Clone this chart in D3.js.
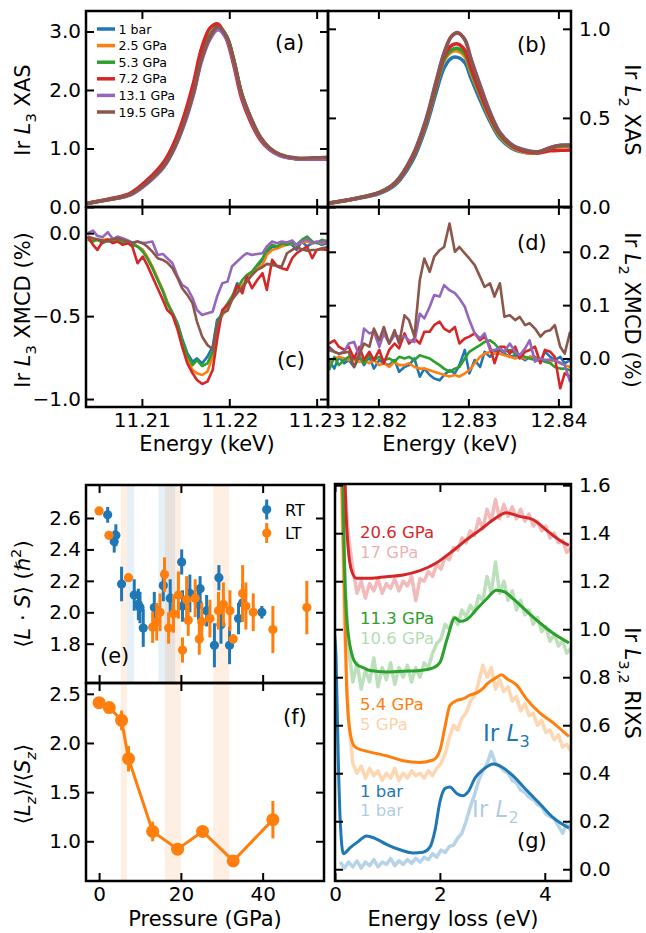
<!DOCTYPE html>
<html>
<head>
<meta charset="UTF-8">
<title>Ir XAS, XMCD and RIXS under pressure</title>
<script src="https://cdn.jsdelivr.net/npm/d3@7"></script>
<style>
  body { margin: 0; background: #fff; }
  svg { font-family: "DejaVu Sans", sans-serif; }
  .tick line { stroke: #000; stroke-width: 2; }
  .tick text { fill: #000; }
  .frame { fill: none; stroke: #000; stroke-width: 2.5; }
</style>
</head>
<body>
<svg width="646" height="933"></svg>
<script>
// ---------- data ----------
var pressureNames = ["1 bar", "2.5 GPa", "5.3 GPa", "7.2 GPa", "13.1 GPa", "19.5 GPa"];
var colors = ["#1f77b4", "#ff7f0e", "#2ca02c", "#d62728", "#9467bd", "#8c564b"];

// (a) Ir L3 XAS
var xasL3Energy = [11.2036, 11.2064, 11.2087, 11.2106, 11.2125, 11.2136, 11.2147, 11.2159, 11.2168, 11.2178, 11.2187, 11.2197, 11.2205, 11.2214, 11.2224, 11.2235, 11.2246, 11.2258, 11.2275, 11.2295, 11.2313];
var xasL3_1bar = [0.06, 0.13, 0.21, 0.41, 0.69, 0.97, 1.37, 1.94, 2.51, 2.90, 3.06, 2.90, 2.51, 1.94, 1.54, 1.20, 1.00, 0.89, 0.83, 0.82, 0.82];
var xasL3_2p5 = [0.06, 0.13, 0.22, 0.42, 0.71, 0.99, 1.40, 1.97, 2.55, 2.93, 3.08, 2.91, 2.51, 1.94, 1.54, 1.20, 1.00, 0.89, 0.83, 0.82, 0.82];
var xasL3_5p3 = [0.06, 0.14, 0.22, 0.42, 0.72, 1.00, 1.41, 1.99, 2.57, 2.95, 3.09, 2.92, 2.52, 1.95, 1.54, 1.20, 1.00, 0.89, 0.83, 0.82, 0.82];
var xasL3_7p2 = [0.06, 0.14, 0.24, 0.46, 0.77, 1.07, 1.50, 2.12, 2.70, 3.06, 3.13, 2.86, 2.43, 1.86, 1.47, 1.16, 0.98, 0.88, 0.83, 0.82, 0.82];
var xasL3_13p1 = [0.06, 0.13, 0.21, 0.40, 0.68, 0.96, 1.35, 1.92, 2.48, 2.87, 3.03, 2.87, 2.48, 1.92, 1.52, 1.19, 0.99, 0.88, 0.83, 0.82, 0.82];
var xasL3_19p5 = [0.06, 0.13, 0.216, 0.415, 0.70, 0.98, 1.38, 1.95, 2.52, 2.91, 3.08, 2.91, 2.52, 1.95, 1.55, 1.21, 1.01, 0.90, 0.84, 0.84, 0.85];

// (b) Ir L2 XAS
var xasL2Energy = [12.8144, 12.8171, 12.8201, 12.8219, 12.8238, 12.8253, 12.8264, 12.8273, 12.8281, 12.8288, 12.8296, 12.8303, 12.8313, 12.8324, 12.8335, 12.8350, 12.8365, 12.8378, 12.8391, 12.8402, 12.8414];
var xasL2_1bar = [0.020, 0.042, 0.075, 0.125, 0.26, 0.45, 0.64, 0.78, 0.835, 0.84, 0.81, 0.72, 0.60, 0.48, 0.385, 0.325, 0.305, 0.305, 0.33, 0.345, 0.346];
var xasL2_2p5 = [0.021, 0.044, 0.079, 0.132, 0.275, 0.47, 0.67, 0.82, 0.87, 0.875, 0.845, 0.75, 0.625, 0.495, 0.395, 0.33, 0.305, 0.303, 0.33, 0.34, 0.34];
var xasL2_5p3 = [0.021, 0.044, 0.080, 0.134, 0.28, 0.475, 0.675, 0.83, 0.88, 0.89, 0.86, 0.765, 0.635, 0.505, 0.402, 0.335, 0.31, 0.305, 0.33, 0.342, 0.343];
var xasL2_7p2 = [0.021, 0.044, 0.080, 0.135, 0.28, 0.48, 0.685, 0.845, 0.905, 0.915, 0.88, 0.78, 0.645, 0.51, 0.41, 0.338, 0.31, 0.305, 0.315, 0.318, 0.32];
var xasL2_13p1 = [0.022, 0.045, 0.082, 0.14, 0.29, 0.495, 0.705, 0.865, 0.955, 0.975, 0.94, 0.83, 0.685, 0.535, 0.42, 0.345, 0.318, 0.31, 0.335, 0.346, 0.348];
var xasL2_19p5 = [0.022, 0.045, 0.082, 0.138, 0.287, 0.49, 0.70, 0.864, 0.957, 0.979, 0.939, 0.827, 0.678, 0.529, 0.417, 0.342, 0.315, 0.31, 0.333, 0.345, 0.346];

// (c) Ir L3 XMCD (%)
var xmcdL3Energy = [11.2038, 11.2044, 11.2049, 11.2055, 11.2061, 11.2067, 11.2072, 11.2078, 11.2084, 11.2089,
  11.2095, 11.2101, 11.2106, 11.2112, 11.2118, 11.2124, 11.2129, 11.2135, 11.2141, 11.2146,
  11.2152, 11.2158, 11.2163, 11.2169, 11.2175, 11.2181, 11.2186, 11.2192, 11.2198, 11.2203,
  11.2209, 11.2215, 11.2220, 11.2226, 11.2232, 11.2238, 11.2243, 11.2249, 11.2255, 11.2260,
  11.2266, 11.2272, 11.2277, 11.2283, 11.2289, 11.2295, 11.2300, 11.2306, 11.2312];
var xmcdL3_1bar = [-0.036, -0.044, -0.04, -0.05, -0.036, -0.04, -0.05, -0.04, -0.06, -0.056,
  -0.08, -0.101, -0.145, -0.205, -0.278, -0.346, -0.419, -0.479, -0.547, -0.634,
  -0.724, -0.775, -0.755, -0.785, -0.744, -0.684, -0.523, -0.493, -0.443, -0.392,
  -0.302, -0.342, -0.272, -0.241, -0.201, -0.161, -0.121, -0.08, -0.091, -0.07,
  -0.06, -0.07, -0.101, -0.05, -0.08, -0.06, -0.056, -0.07, -0.06];
var xmcdL3_2p5 = [-0.03, -0.036, -0.044, -0.04, -0.036, -0.05, -0.04, -0.056, -0.06, -0.064,
  -0.08, -0.101, -0.141, -0.201, -0.272, -0.342, -0.412, -0.483, -0.563, -0.664,
  -0.765, -0.825, -0.845, -0.855, -0.835, -0.744, -0.563, -0.493, -0.453, -0.402,
  -0.352, -0.312, -0.282, -0.241, -0.211, -0.191, -0.131, -0.101, -0.091, -0.08,
  -0.07, -0.06, -0.07, -0.056, -0.05, -0.06, -0.056, -0.06, -0.05];
var xmcdL3_5p3 = [-0.04, -0.05, -0.036, -0.06, -0.044, -0.056, -0.04, -0.06, -0.05, -0.07,
  -0.08, -0.111, -0.151, -0.211, -0.282, -0.352, -0.423, -0.483, -0.553, -0.644,
  -0.734, -0.795, -0.765, -0.801, -0.785, -0.714, -0.543, -0.473, -0.423, -0.382,
  -0.332, -0.282, -0.252, -0.231, -0.191, -0.151, -0.101, -0.07, -0.08, -0.06,
  -0.07, -0.056, -0.07, -0.04, -0.02, -0.05, -0.06, -0.04, -0.05];
var xmcdL3_7p2 = [-0.02, -0.07, -0.101, -0.05, -0.04, -0.06, -0.05, -0.07, -0.06, -0.08,
  -0.181, -0.141, -0.191, -0.262, -0.332, -0.402, -0.463, -0.493, -0.584, -0.684,
  -0.785, -0.845, -0.885, -0.909, -0.895, -0.825, -0.644, -0.463, -0.433, -0.402,
  -0.312, -0.362, -0.262, -0.332, -0.282, -0.241, -0.342, -0.161, -0.201, -0.211,
  -0.221, -0.151, -0.121, -0.101, -0.08, -0.151, -0.101, -0.097, -0.101];
var xmcdL3_13p1 = [0, 0.016, -0.016, -0.024, 0.006, -0.036, -0.02, -0.03, -0.044, -0.056,
  -0.05, -0.06, -0.056, -0.05, -0.131, -0.125, -0.151, -0.181, -0.262, -0.312,
  -0.332, -0.392, -0.463, -0.493, -0.483, -0.473, -0.382, -0.302, -0.292, -0.201,
  -0.171, -0.141, -0.121, -0.131, -0.125, -0.121, -0.08, -0.05, -0.06, -0.05,
  -0.056, -0.044, -0.07, -0.05, -0.036, -0.06, -0.05, -0.056, -0.044];
var xmcdL3_19p5 = [-0.02, -0.03, -0.036, -0.044, -0.05, -0.036, -0.03, -0.04, -0.05, -0.06,
  -0.05, -0.06, -0.08, -0.111, -0.151, -0.161, -0.177, -0.211, -0.272, -0.332,
  -0.372, -0.423, -0.533, -0.624, -0.674, -0.7, -0.553, -0.483, -0.467, -0.403,
  -0.362, -0.326, -0.292, -0.252, -0.221, -0.205, -0.185, -0.191, -0.197, -0.201,
  -0.121, -0.101, -0.085, -0.097, -0.105, -0.101, -0.101, -0.091, -0.085];

// (d) Ir L2 XMCD (%)
var xmcdL2Energy = [12.8145, 12.8151, 12.8156, 12.8162, 12.8167, 12.8173, 12.8179, 12.8184, 12.8190, 12.8195,
  12.8201, 12.8206, 12.8212, 12.8218, 12.8223, 12.8229, 12.8234, 12.8240, 12.8246, 12.8251,
  12.8257, 12.8262, 12.8268, 12.8273, 12.8279, 12.8285, 12.8290, 12.8296, 12.8301, 12.8307,
  12.8313, 12.8318, 12.8324, 12.8329, 12.8335, 12.8340, 12.8346, 12.8352, 12.8357, 12.8363,
  12.8368, 12.8374, 12.8380, 12.8385, 12.8391, 12.8396, 12.8402, 12.8407, 12.8413];
var xmcdL2_1bar = [-0.003, -0.019, 0.003, -0.009, -0.003, -0.016, 0.003, -0.0125, 0.003, -0.019,
  -0.003, -0.009, -0.0125, -0.003, -0.025, -0.016, -0.0125, 0, -0.034, -0.019,
  -0.031, -0.0375, -0.041, -0.031, -0.022, -0.028, -0.0125, 0.016, -0.028, -0.003,
  -0.016, 0.0125, 0.003, 0.0125, 0.016, 0.009, 0.003, 0.006, 0.003, -0.003,
  0.003, 0.003, -0.006, 0.0125, 0.003, -0.003, 0.003, -0.009, -0.003];
var xmcdL2_2p5 = [-0.0125, 0, 0.003, 0, -0.003, -0.003, -0.006, -0.003, -0.009, -0.003,
  -0.0125, -0.009, -0.016, -0.006, -0.0125, -0.0125, -0.009, -0.016, -0.019, -0.019,
  -0.022, -0.025, -0.028, -0.031, -0.034, -0.031, -0.034, -0.028, -0.022, -0.009,
  0.003, 0.009, 0.0125, 0.009, 0.009, 0.006, 0.003, 0, 0.003, 0,
  0.003, 0, -0.003, -0.003, -0.006, -0.003, -0.009, -0.0125, -0.016];
var xmcdL2_5p3 = [-0.022, 0.003, -0.0125, -0.003, 0.003, 0, 0.003, -0.009, 0.006, -0.003,
  0.003, -0.003, 0, -0.006, 0.003, 0, 0.003, -0.003, 0.006, 0.003,
  0, -0.006, -0.0125, -0.019, -0.025, -0.019, -0.016, 0, 0.0125, 0.019,
  0.025, 0.031, 0.034, 0.028, 0.016, 0.0125, 0.016, 0.009, 0.006, 0.003,
  0, -0.003, -0.003, -0.006, -0.009, -0.016, -0.019, -0.019, -0.022];
var xmcdL2_7p2 = [0.028, 0.034, 0.022, 0.016, 0.022, 0, 0.022, -0.003, 0.0125, -0.003,
  0.016, -0.009, 0.016, 0.028, 0.019, 0.047, 0.028, 0.0375, 0.028, 0.05,
  0.05, 0.0625, 0.069, 0.056, 0.05, 0.059, 0.028, 0.0375, 0.041, 0.047,
  0.034, 0.041, 0.022, -0.009, 0.022, 0.022, 0.009, 0.022, 0, 0.0125,
  0.016, 0.022, -0.009, 0.016, 0.0125, 0.003, -0.056, -0.028, -0.034];
var xmcdL2_13p1 = [0.0156, 0.0125, 0.009, 0.0125, 0.028, 0.031, 0.003, 0.056, 0.047, 0.05,
  0.022, 0.047, 0.028, 0.044, 0.041, 0.041, 0.034, 0.031, 0.084, 0.075,
  0.097, 0.119, 0.116, 0.1375, 0.128, 0.1225, 0.1125, 0.097, 0.072, 0.047,
  0.0375, 0.047, 0.016, 0.016, 0.019, 0.0125, 0.028, 0.0125, 0.006, 0.019,
  0.034, -0.006, 0, -0.003, -0.002, -0.004, -0.008, -0.0125, -0.044];
var xmcdL2_19p5 = [0.022, 0.0125, 0.009, 0.011, 0.0125, -0.016, 0.009, 0.028, 0.022, 0.056,
  0.034, 0.059, 0.028, 0.053, 0.028, 0.081, 0.072, 0.041, 0.147, 0.1875,
  0.1625, 0.191, 0.203, 0.209, 0.253, 0.2, 0.209, 0.197, 0.1875, 0.175,
  0.153, 0.134, 0.141, 0.116, 0.141, 0.078, 0.081, 0.072, 0.078, 0.0625,
  0.066, 0.056, 0.041, 0.05, 0.053, 0.0625, 0.022, 0.009, 0.05];

// (e) <L.S> vs pressure
var rtPressure = [2.1, 3.7, 4.1, 5.5, 8.6, 9.6, 10.0, 10.8, 13.5, 15.7, 17.4, 20.2, 20.4, 22.2, 24.3, 24.7, 26.3, 28.2, 29.3, 29.8, 31.9, 34.1, 35.1, 39.8];
var rtLS = [2.62, 2.45, 2.49, 2.18, 2.11, 2.05, 2.03, 1.90, 2.03, 2.17, 2.09, 2.32, 2.04, 2.12, 2.05, 2.15, 2.01, 1.79, 2.22, 1.92, 1.79, 1.96, 2.06, 2.00];
var rtErr = [0.05, 0.07, 0.07, 0.11, 0.10, 0.10, 0.10, 0.12, 0.10, 0.10, 0.12, 0.08, 0.10, 0.12, 0.10, 0.08, 0.10, 0.14, 0.08, 0.12, 0.12, 0.10, 0.12, 0.04];
var ltPressure = [0, 2.4, 7.2, 13.1, 14.1, 14.9, 16.0, 17.0, 18.2, 19.4, 20.4, 21.4, 21.8, 23.5, 24.5, 25.1, 27.1, 29.2, 30.4, 32.0, 32.8, 35.1, 35.9, 37.7, 42.5, 50.8];
var ltLS = [2.645, 2.49, 2.22, 1.905, 1.94, 2.00, 2.24, 1.90, 1.99, 2.11, 1.76, 2.08, 1.95, 2.09, 1.83, 1.94, 1.96, 2.01, 2.05, 2.01, 1.83, 2.12, 2.04, 2.00, 1.89, 2.03];
var ltErr = [0, 0, 0, 0.10, 0.12, 0.12, 0.11, 0.10, 0.12, 0.15, 0.08, 0.15, 0.10, 0.12, 0.10, 0.12, 0.12, 0.12, 0.14, 0.13, 0.03, 0.18, 0.15, 0.12, 0.15, 0.17];
var ltBands = [[5.3, 6.8], [16.1, 20.0], [27.9, 31.9]];
var rtBands = [[6.8, 8.6], [14.5, 18.6]];

// (f) <Lz>/<Sz>
var ratioPressure = [0, 2.5, 5.5, 7.2, 13.1, 19.2, 25.3, 32.8, 42.5];
var ratioValue = [2.41, 2.36, 2.23, 1.84, 1.10, 0.92, 1.10, 0.80, 1.22];
var ratioErr = [0.05, 0.05, 0.10, 0.13, 0.10, 0.03, 0.03, 0.03, 0.19];

// (g) RIXS
var rixsL3_1bar_E = [-0.02, 0.02, 0.06, 0.10, 0.16, 0.29, 0.44, 0.60, 0.76, 0.98, 1.24, 1.49, 1.68, 1.81, 1.91, 2.00, 2.10, 2.19, 2.32, 2.44, 2.54, 2.67, 2.83, 3.02, 3.18, 3.40, 3.65, 3.91, 4.16, 4.46];
var rixsL3_1bar = [1.0, 0.88, 0.48, 0.20, 0.065, 0.09, 0.115, 0.139, 0.129, 0.104, 0.081, 0.068, 0.071, 0.092, 0.165, 0.28, 0.337, 0.343, 0.316, 0.306, 0.323, 0.38, 0.416, 0.438, 0.426, 0.388, 0.33, 0.272, 0.215, 0.172];
var rixsL3_5p4_E = [0.10, 0.13, 0.16, 0.19, 0.22, 0.29, 0.38, 0.54, 0.67, 0.98, 1.30, 1.62, 1.87, 2.00, 2.10, 2.19, 2.32, 2.44, 2.57, 2.70, 2.83, 2.89, 3.05, 3.18, 3.27, 3.46, 3.65, 3.91, 4.16, 4.46];
var rixsL3_5p4 = [2.0, 1.63, 1.34, 1.055, 0.768, 0.567, 0.51, 0.495, 0.488, 0.473, 0.452, 0.445, 0.455, 0.495, 0.596, 0.682, 0.703, 0.71, 0.725, 0.735, 0.755, 0.77, 0.795, 0.81, 0.795, 0.768, 0.71, 0.65, 0.61, 0.553];
var rixsL3_11p3_E = [0.13, 0.16, 0.19, 0.22, 0.25, 0.32, 0.41, 0.54, 0.67, 0.98, 1.30, 1.62, 1.87, 2.00, 2.13, 2.29, 2.38, 2.51, 2.70, 2.89, 3.08, 3.24, 3.40, 3.65, 3.91, 4.16, 4.46];
var rixsL3_11p3 = [2.0, 1.485, 1.2, 1.055, 0.983, 0.897, 0.854, 0.84, 0.828, 0.822, 0.825, 0.828, 0.839, 0.861, 0.954, 1.048, 1.033, 1.04, 1.083, 1.126, 1.162, 1.155, 1.126, 1.076, 1.026, 0.983, 0.943];
var rixsL3_20p6_E = [0.15, 0.19, 0.21, 0.25, 0.32, 0.41, 0.67, 0.98, 1.30, 1.62, 1.94, 2.25, 2.51, 2.76, 3.02, 3.27, 3.52, 3.78, 4.03, 4.29, 4.46];
var rixsL3_20p6 = [2.0, 1.63, 1.485, 1.341, 1.241, 1.212, 1.212, 1.219, 1.226, 1.244, 1.277, 1.327, 1.373, 1.413, 1.456, 1.485, 1.47, 1.456, 1.413, 1.37, 1.349];

var rixsL2Energy = [0.10, 0.18, 0.26, 0.34, 0.42, 0.50, 0.58, 0.66, 0.74, 0.82,
  0.90, 0.98, 1.06, 1.14, 1.22, 1.30, 1.38, 1.46, 1.54, 1.62,
  1.70, 1.78, 1.86, 1.94, 2.02, 2.10, 2.18, 2.26, 2.34, 2.42,
  2.50, 2.58, 2.66, 2.74, 2.82, 2.90, 2.98, 3.06, 3.14, 3.22,
  3.30, 3.38, 3.46, 3.54, 3.62, 3.70, 3.78, 3.86, 3.94, 4.02,
  4.10, 4.18, 4.26, 4.34, 4.42, 4.50];
var rixsL2_1bar = [0.03, 0.005, 0.03, 0.01, 0.035, 0.005, 0.03, 0.015, 0.04, 0.01,
  0.03, 0.02, 0.045, 0.015, 0.035, 0.02, 0.04, 0.025, 0.045, 0.03,
  0.05, 0.04, 0.065, 0.05, 0.08, 0.07, 0.095, 0.10, 0.13, 0.15,
  0.20, 0.26, 0.31, 0.37, 0.41, 0.44, 0.49, 0.44, 0.43, 0.41,
  0.40, 0.37, 0.36, 0.33, 0.32, 0.30, 0.29, 0.27, 0.26, 0.23,
  0.22, 0.21, 0.18, 0.15, 0.19, 0.16];
var rixsL2_5 = [1.9, 1.0, 0.62, 0.44, 0.40, 0.43, 0.38, 0.42, 0.39, 0.41,
  0.37, 0.40, 0.38, 0.42, 0.37, 0.40, 0.38, 0.41, 0.39, 0.40,
  0.38, 0.41, 0.39, 0.42, 0.44, 0.48, 0.55, 0.60, 0.58, 0.63,
  0.65, 0.70, 0.72, 0.78, 0.85, 0.80, 0.84, 0.75, 0.79, 0.74,
  0.76, 0.70, 0.72, 0.66, 0.69, 0.64, 0.65, 0.60, 0.62, 0.57,
  0.58, 0.54, 0.56, 0.51, 0.52, 0.49];
var rixsL2_10p6 = [1.9, 1.25, 0.92, 0.78, 0.86, 0.75, 0.83, 0.78, 0.88, 0.76,
  0.84, 0.79, 0.86, 0.77, 0.84, 0.80, 0.85, 0.78, 0.84, 0.80,
  0.86, 0.84, 0.90, 0.94, 0.96, 1.02, 1.00, 1.05, 1.02, 1.08,
  1.05, 1.10, 1.07, 1.14, 1.12, 1.22, 1.15, 1.28, 1.15, 1.20,
  1.12, 1.16, 1.08, 1.12, 1.06, 1.08, 1.02, 1.05, 0.99, 1.01,
  0.95, 0.98, 0.93, 0.95, 0.90, 0.92];
var rixsL2_17 = [1.9, 1.6, 1.38, 1.25, 1.15, 1.20, 1.13, 1.19, 1.16, 1.21,
  1.15, 1.19, 1.17, 1.21, 1.16, 1.20, 1.18, 1.22, 1.12, 1.21,
  1.20, 1.24, 1.22, 1.27, 1.25, 1.30, 1.29, 1.34, 1.33, 1.38,
  1.36, 1.41, 1.39, 1.46, 1.42, 1.50, 1.45, 1.54, 1.46, 1.52,
  1.47, 1.51, 1.46, 1.50, 1.45, 1.48, 1.43, 1.45, 1.41, 1.43,
  1.38, 1.40, 1.36, 1.37, 1.32, 1.34];

// ---------- drawing ----------
var svg = d3.select("svg");

function makePanel(id, box, xDom, yDom) {
  var p = { box: box };
  p.x = d3.scaleLinear().domain(xDom).range([box.x0, box.x1]);
  p.y = d3.scaleLinear().domain(yDom).range([box.y1, box.y0]);
  svg.append("clipPath").attr("id", "clip-" + id).append("rect")
    .attr("x", box.x0).attr("y", box.y0)
    .attr("width", box.x1 - box.x0).attr("height", box.y1 - box.y0);
  p.g = svg.append("g").attr("clip-path", "url(#clip-" + id + ")");
  return p;
}

function ticks(p, side, values, fmt) {
  var a, tr;
  if (side == "left") { a = d3.axisLeft(p.y); tr = [p.box.x0, 0]; }
  if (side == "right") { a = d3.axisRight(p.y); tr = [p.box.x1, 0]; }
  if (side == "top") { a = d3.axisTop(p.x); tr = [0, p.box.y0]; }
  if (side == "bottom") { a = d3.axisBottom(p.x); tr = [0, p.box.y1]; }
  a.tickValues(values).tickSize(-8)
    .tickPadding(side == "bottom" ? 6 : side == "right" ? 8 : 5)
    .tickFormat(fmt ? d3.format(fmt) : "");
  var g = svg.append("g").attr("transform", "translate(" + tr + ")").call(a)
    .attr("font-size", 20).attr("font-family", "DejaVu Sans");
  g.select(".domain").remove();
}

function frame(p) {
  svg.append("rect").attr("class", "frame")
    .attr("x", p.box.x0).attr("y", p.box.y0)
    .attr("width", p.box.x1 - p.box.x0).attr("height", p.box.y1 - p.box.y0);
}

function rich(parent, parts, size) {
  var t = parent.append("text").attr("font-size", size);
  var shift = 0;
  parts.forEach(function (q) {
    var s = t.append("tspan").text(q[0]);
    var want = 0;
    if (q[1] == "sub" || q[1] == "isub") want = size * 0.28;
    if (q[1] == "sup") want = -size * 0.42;
    if (want != shift) { s.attr("dy", want - shift); shift = want; }
    if (q[1] == "sub" || q[1] == "isub" || q[1] == "sup") s.attr("font-size", size * 0.7);
    if (q[1] == "i" || q[1] == "isub") s.attr("font-style", "italic");
  });
  return t;
}

function yLabel(x, y, rot, parts) {
  var g = svg.append("g").attr("transform", "translate(" + x + "," + y + ") rotate(" + rot + ")");
  rich(g, parts, 21).attr("text-anchor", "middle");
}

function label(x, y, txt, size) {
  svg.append("text").attr("x", x).attr("y", y).attr("font-size", size || 21).text(txt);
}

function drawLine(p, xs, ys, color, width, curve, opacity) {
  var line = d3.line().x(function (d) { return p.x(xs[d]); }).y(function (d) { return p.y(ys[d]); });
  if (curve) line.curve(curve);
  p.g.append("path").attr("d", line(d3.range(xs.length)))
    .attr("fill", "none").attr("stroke", color).attr("stroke-width", width)
    .attr("stroke-linejoin", "round").attr("stroke-opacity", opacity || 1);
}

var pa = makePanel("a", { x0: 86, x1: 328, y0: 11, y1: 207 }, [11.2036, 11.2313], [0, 3.35]);
var pb = makePanel("b", { x0: 328, x1: 571, y0: 11, y1: 207 }, [12.8144, 12.8414], [0, 1.1]);
var pc = makePanel("c", { x0: 86, x1: 328, y0: 207, y1: 407 }, [11.2036, 11.2313], [-1.048, 0.158]);
var pd = makePanel("d", { x0: 328, x1: 571, y0: 207, y1: 407 }, [12.8144, 12.8414], [-0.091, 0.284]);
var pe = makePanel("e", { x0: 86, x1: 324, y0: 485, y1: 683 }, [-3.2, 55], [1.55, 2.81]);
var pf = makePanel("f", { x0: 86, x1: 324, y0: 683, y1: 881 }, [-3.2, 55], [0.596, 2.61]);
var pg = makePanel("g", { x0: 335, x1: 571, y0: 484, y1: 881 }, [0, 4.5], [-0.049, 1.605]);

// (a), (b) XAS
var smooth = d3.curveCatmullRom.alpha(0.5);
[xasL3_1bar, xasL3_2p5, xasL3_5p3, xasL3_7p2, xasL3_13p1, xasL3_19p5].forEach(function (s, i) {
  drawLine(pa, xasL3Energy, s, colors[i], 3.5, smooth);
});
[xasL2_1bar, xasL2_2p5, xasL2_5p3, xasL2_7p2, xasL2_13p1, xasL2_19p5].forEach(function (s, i) {
  drawLine(pb, xasL2Energy, s, colors[i], 3.5, smooth);
});
// (c), (d) XMCD
[xmcdL3_1bar, xmcdL3_2p5, xmcdL3_5p3, xmcdL3_7p2, xmcdL3_13p1, xmcdL3_19p5].forEach(function (s, i) {
  drawLine(pc, xmcdL3Energy, s, colors[i], 2.6);
});
[xmcdL2_1bar, xmcdL2_2p5, xmcdL2_5p3, xmcdL2_7p2, xmcdL2_13p1, xmcdL2_19p5].forEach(function (s, i) {
  drawLine(pd, xmcdL2Energy, s, colors[i], 2.6);
});

// legend (a)
pressureNames.forEach(function (n, i) {
  var yy = 29 + i * 16.6;
  svg.append("line").attr("x1", 97).attr("x2", 115).attr("y1", yy).attr("y2", yy)
    .attr("stroke", colors[i]).attr("stroke-width", 3.5);
  svg.append("text").attr("x", 118.5).attr("y", yy + 4.5).attr("font-size", 12.6).text(n);
});

// (e), (f) transition bands
[pe, pf].forEach(function (p, k) {
  ltBands.forEach(function (b) {
    p.g.append("rect").attr("x", p.x(b[0])).attr("width", p.x(b[1]) - p.x(b[0]))
      .attr("y", p.box.y0).attr("height", p.box.y1 - p.box.y0)
      .attr("fill", "#ff7f0e").attr("fill-opacity", 0.12);
  });
  if (k == 0) rtBands.forEach(function (b) {
    p.g.append("rect").attr("x", p.x(b[0])).attr("width", p.x(b[1]) - p.x(b[0]))
      .attr("y", p.box.y0).attr("height", p.box.y1 - p.box.y0)
      .attr("fill", "#1f77b4").attr("fill-opacity", 0.11);
  });
});

function errPoints(p, xs, ys, es, color, r, w) {
  var idx = d3.range(xs.length);
  p.g.selectAll(null).data(idx).enter().append("line")
    .attr("x1", function (i) { return p.x(xs[i]); }).attr("x2", function (i) { return p.x(xs[i]); })
    .attr("y1", function (i) { return p.y(ys[i] - es[i]); }).attr("y2", function (i) { return p.y(ys[i] + es[i]); })
    .attr("stroke", color).attr("stroke-width", w);
  p.g.selectAll(null).data(idx).enter().append("circle")
    .attr("cx", function (i) { return p.x(xs[i]); }).attr("cy", function (i) { return p.y(ys[i]); })
    .attr("r", r).attr("fill", color);
}
errPoints(pe, rtPressure, rtLS, rtErr, colors[0], 4.6, 3);
errPoints(pe, ltPressure, ltLS, ltErr, colors[1], 4.6, 3);

drawLine(pf, ratioPressure, ratioValue, colors[1], 3);
errPoints(pf, ratioPressure, ratioValue, ratioErr, colors[1], 6.5, 3);

// legend (e)
[["RT", colors[0], 509.5], ["LT", colors[1], 533]].forEach(function (l) {
  svg.append("line").attr("x1", 266.7).attr("x2", 266.7).attr("y1", l[2] - 10).attr("y2", l[2] + 10)
    .attr("stroke", l[1]).attr("stroke-width", 3);
  svg.append("circle").attr("cx", 266.7).attr("cy", l[2]).attr("r", 4.6).attr("fill", l[1]);
  svg.append("text").attr("x", 285).attr("y", l[2] + 6).attr("font-size", 16).text(l[0]);
});

// (g) RIXS
var mono = d3.curveMonotoneX;
drawLine(pg, rixsL2Energy, rixsL2_1bar, colors[0], 3.5, null, 0.32);
drawLine(pg, rixsL2Energy, rixsL2_5, colors[1], 3.5, null, 0.32);
drawLine(pg, rixsL2Energy, rixsL2_10p6, colors[2], 3.5, null, 0.32);
drawLine(pg, rixsL2Energy, rixsL2_17, colors[3], 3.5, null, 0.32);
drawLine(pg, rixsL3_1bar_E, rixsL3_1bar, colors[0], 3, mono);
drawLine(pg, rixsL3_5p4_E, rixsL3_5p4, colors[1], 3, mono);
drawLine(pg, rixsL3_11p3_E, rixsL3_11p3, colors[2], 3, mono);
drawLine(pg, rixsL3_20p6_E, rixsL3_20p6, colors[3], 3, mono);

[["20.6 GPa", colors[3], 1, 538], ["17 GPa", colors[3], 0.38, 557.5],
 ["11.3 GPa", colors[2], 1, 624], ["10.6 GPa", colors[2], 0.38, 643.5],
 ["5.4 GPa", colors[1], 1, 710], ["5 GPa", colors[1], 0.38, 729.5],
 ["1 bar", colors[0], 1, 796.5], ["1 bar", colors[0], 0.38, 816]].forEach(function (l) {
  svg.append("text").attr("x", 360).attr("y", l[3]).attr("font-size", 16.5)
    .attr("fill", l[1]).attr("fill-opacity", l[2]).text(l[0]);
});
rich(svg, [["Ir "], ["L", "i"], ["3", "sub"]], 23).attr("x", 483).attr("y", 741).attr("fill", colors[0]);
rich(svg, [["Ir "], ["L", "i"], ["2", "sub"]], 23).attr("x", 472).attr("y", 817).attr("fill", colors[0]).attr("fill-opacity", 0.38);

// axes
var xa = [11.21, 11.22, 11.23], xb = [12.82, 12.83, 12.84];
ticks(pa, "left", [0, 1, 2, 3], ".1f"); ticks(pa, "right", [0, 1, 2, 3]);
ticks(pa, "top", xa); ticks(pa, "bottom", xa);
ticks(pb, "right", [0, 0.5, 1], ".1f"); ticks(pb, "left", [0, 0.5, 1]);
ticks(pb, "top", xb); ticks(pb, "bottom", xb);
ticks(pc, "left", [-1, -0.5, 0], ".1f"); ticks(pc, "right", [-1, -0.5, 0]);
ticks(pc, "top", xa); ticks(pc, "bottom", xa, ".2f");
ticks(pd, "right", [0, 0.1, 0.2], ".1f"); ticks(pd, "left", [0, 0.1, 0.2]);
ticks(pd, "top", xb); ticks(pd, "bottom", xb, ".2f");
var xp = [0, 20, 40];
ticks(pe, "left", [1.8, 2.0, 2.2, 2.4, 2.6], ".1f"); ticks(pe, "right", [1.8, 2.0, 2.2, 2.4, 2.6]);
ticks(pe, "top", xp); ticks(pe, "bottom", xp);
ticks(pf, "left", [1.0, 1.5, 2.0, 2.5], ".1f"); ticks(pf, "right", [1.0, 1.5, 2.0, 2.5]);
ticks(pf, "top", xp); ticks(pf, "bottom", xp, "d");
var yg = [0, 0.2, 0.4, 0.6, 0.8, 1.0, 1.2, 1.4, 1.6];
ticks(pg, "right", yg, ".1f"); ticks(pg, "left", yg);
ticks(pg, "top", [0, 2, 4]); ticks(pg, "bottom", [0, 2, 4], "d");
[pa, pb, pc, pd, pe, pf, pg].forEach(frame);

// panel letters
label(275, 50, "(a)"); label(517, 52, "(b)"); label(277, 367, "(c)"); label(517, 250, "(d)");
label(100, 663, "(e)"); label(283, 724, "(f)"); label(517, 848, "(g)");

// axis titles
svg.append("text").attr("x", 207).attr("y", 451).attr("font-size", 21).attr("text-anchor", "middle").text("Energy (keV)");
svg.append("text").attr("x", 450).attr("y", 451).attr("font-size", 21).attr("text-anchor", "middle").text("Energy (keV)");
svg.append("text").attr("x", 205).attr("y", 926).attr("font-size", 21).attr("text-anchor", "middle").text("Pressure (GPa)");
svg.append("text").attr("x", 453).attr("y", 926).attr("font-size", 21).attr("text-anchor", "middle").text("Energy loss (eV)");

yLabel(30, 110, -90, [["Ir "], ["L", "i"], ["3", "sub"], [" XAS"]]);
yLabel(30, 310, -90, [["Ir "], ["L", "i"], ["3", "sub"], [" XMCD (%)"]]);
yLabel(30, 594, -90, [["\u27E8"], ["L", "i"], [" \u00B7 "], ["S", "i"], ["\u27E9 ("], ["\u210F", "i"], ["2", "sup"], [")"]]);
yLabel(30, 784, -90, [["\u27E8"], ["L", "i"], ["z", "isub"], ["\u27E9/\u27E8"], ["S", "i"], ["z", "isub"], ["\u27E9"]]);
yLabel(625, 110, 90, [["Ir "], ["L", "i"], ["2", "sub"], [" XAS"]]);
yLabel(625, 310, 90, [["Ir "], ["L", "i"], ["2", "sub"], [" XMCD (%)"]]);
yLabel(625, 683, 90, [["Ir "], ["L", "i"], ["3,2", "sub"], [" RIXS"]]);
</script>
</body>
</html>
